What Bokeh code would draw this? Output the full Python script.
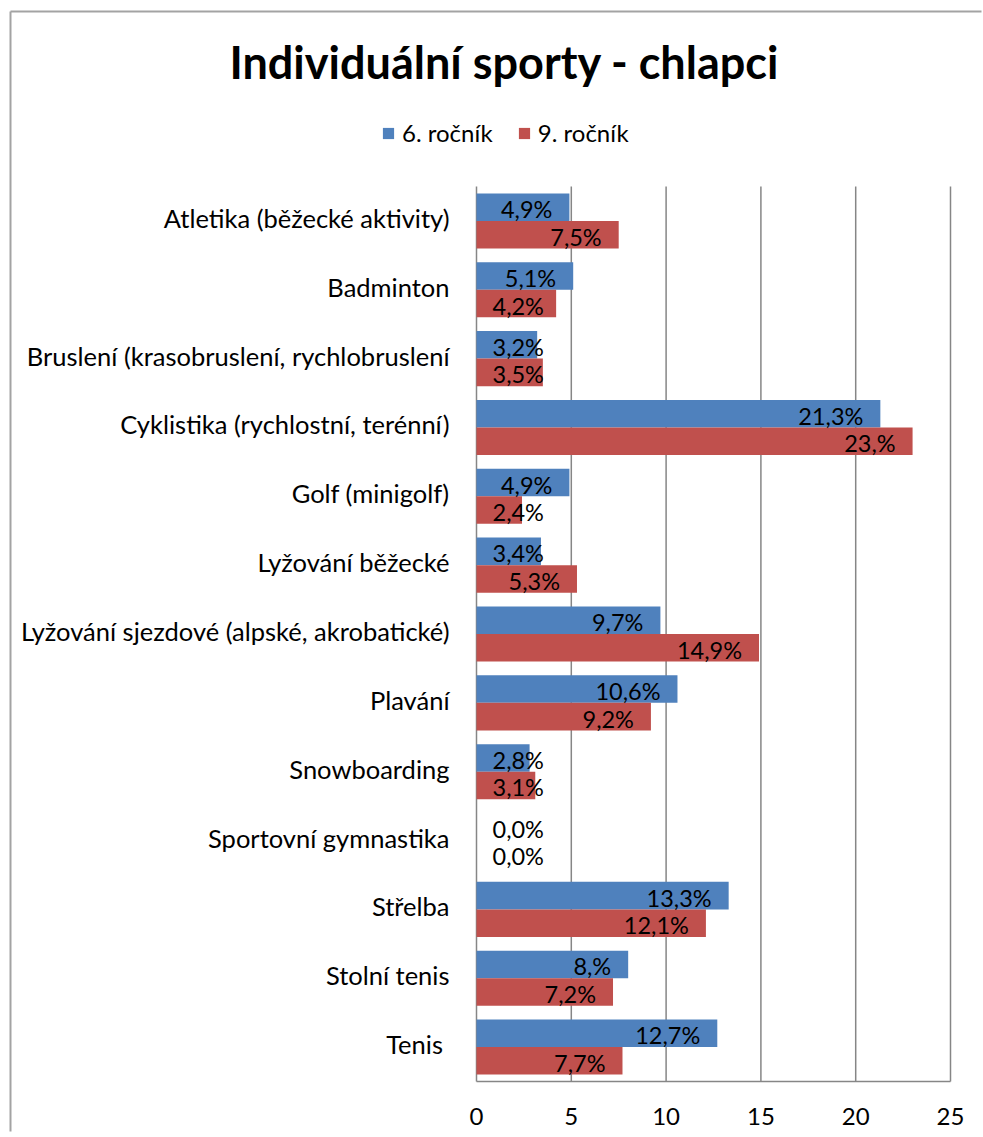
from bokeh.plotting import figure
from bokeh.models import ColumnDataSource, Range1d, Legend, LegendItem, Label
from bokeh.embed import file_html
from bokeh.resources import INLINE
from bokeh.core.properties import value
from bokeh.transform import dodge

categories = [
    "Atletika (běžecké aktivity)",
    "Badminton",
    "Bruslení (krasobruslení, rychlobruslení",
    "Cyklistika (rychlostní, terénní)",
    "Golf (minigolf)",
    "Lyžování běžecké",
    "Lyžování sjezdové (alpské, akrobatické)",
    "Plavání",
    "Snowboarding",
    "Sportovní gymnastika",
    "Střelba",
    "Stolní tenis",
    "Tenis ",
]
grade6 = [4.9, 5.1, 3.2, 21.3, 4.9, 3.4, 9.7, 10.6, 2.8, 0.0, 13.3, 8.0, 12.7]
grade9 = [7.5, 4.2, 3.5, 23.0, 2.4, 5.3, 14.9, 9.2, 3.1, 0.0, 12.1, 7.2, 7.7]
labels6 = ["4,9%", "5,1%", "3,2%", "21,3%", "4,9%", "3,4%", "9,7%", "10,6%", "2,8%", "0,0%", "13,3%", "8,%", "12,7%"]
labels9 = ["7,5%", "4,2%", "3,5%", "23,%", "2,4%", "5,3%", "14,9%", "9,2%", "3,1%", "0,0%", "12,1%", "7,2%", "7,7%"]
series_names = ["6. ročník", "9. ročník"]
x_ticks = [0, 5, 10, 15, 20, 25]
title_text = "Individuální sporty - chlapci"

BLUE = "#4F81BD"
RED = "#C0504D"
GRID = "#868686"
BORDER = "#a3a3a3"
FONT = "Lato"
INSIDE_MIN = 4.5  # labels of shorter bars start at the axis

# page layout (pixels)
W, H = 983, 1133
PLOT_L, PLOT_R, PLOT_T, PLOT_B = 476, 950, 186, 1081

n = len(categories)
ypos = [n - 1 - i for i in range(n)]
x_max = x_ticks[-1]
ppx = (PLOT_R - PLOT_L) / x_max
ppy = (PLOT_B - PLOT_T) / n
y_lo, y_hi = -0.5, n - 0.5


def px_x(px):
    return (px - PLOT_L) / ppx


def px_y(py):
    return y_lo + (PLOT_B - py) / ppy


p = figure(width=W, height=H,
           x_range=Range1d(px_x(0), px_x(W)), y_range=Range1d(px_y(H), px_y(0)),
           x_axis_type=None, y_axis_type=None, title_location=None,
           output_backend="svg", toolbar_location=None, min_border=0)
p.outline_line_color = None
p.background_fill_color = "white"
p.border_fill_color = "white"
p.xgrid.visible = False
p.ygrid.visible = False

# chart border (left and top edges of the chart area)
p.segment(x0=[px_x(10), px_x(10)], y0=[px_y(11), px_y(11)],
          x1=[px_x(10), px_x(W - 2)], y1=[px_y(H - 2), px_y(11)],
          line_color=BORDER, line_width=2)

# vertical gridlines and axis lines
p.segment(x0=x_ticks, y0=[y_lo] * len(x_ticks), x1=x_ticks, y1=[y_hi] * len(x_ticks),
          line_color=GRID, line_width=1.5)
p.segment(x0=[0], y0=[y_lo], x1=[x_max], y1=[y_lo], line_color=GRID, line_width=1.5)

src = ColumnDataSource(dict(y=ypos, g6=grade6, g9=grade9))
r6 = p.hbar(y=dodge("y", 0.2), left=0, right="g6", height=0.4,
            source=src, fill_color=BLUE, line_color=None)
r9 = p.hbar(y=dodge("y", -0.2), left=0, right="g9", height=0.4,
            source=src, fill_color=RED, line_color=None)


def add_labels(vals, labs, off):
    ins = dict(x=[], y=[], t=[])
    out = dict(x=[], y=[], t=[])
    for v, t, y in zip(vals, labs, ypos):
        if v >= INSIDE_MIN:
            ins["x"].append(v); ins["y"].append(y + off); ins["t"].append(t)
        else:
            out["x"].append(0); out["y"].append(y + off); out["t"].append(t)
    common = dict(text_baseline="middle", text_font=value(FONT), text_font_size="23.5px",
                  text_color="black", y_offset=2)
    p.text(x="x", y="y", text="t", source=ColumnDataSource(ins), text_align="right",
           x_offset=-17, **common)
    p.text(x="x", y="y", text="t", source=ColumnDataSource(out), text_align="left",
           x_offset=16, **common)


add_labels(grade6, labels6, 0.2)
add_labels(grade9, labels9, -0.2)

# category labels (left axis)
p.text(x=[0] * n, y=ypos, text=categories, text_align="right", text_baseline="middle",
       x_offset=-27, y_offset=-3, text_font=value(FONT), text_font_size="25.5px",
       text_color="black")

# value axis tick labels
p.text(x=x_ticks, y=[y_lo] * len(x_ticks), text=[str(t) for t in x_ticks],
       text_align="center", text_baseline="middle", y_offset=35,
       text_font=value(FONT), text_font_size="24px", text_color="black")

legend = Legend(items=[LegendItem(label=series_names[0], renderers=[r6]),
                       LegendItem(label=series_names[1], renderers=[r9])],
                orientation="horizontal", location=(381, H - 147),
                glyph_width=14, glyph_height=14, label_standoff=7, spacing=24,
                padding=0, margin=0, border_line_color=None, background_fill_alpha=0,
                label_text_font=FONT, label_text_font_size="24px", label_text_color="black")
p.add_layout(legend, "center")

p.add_layout(Label(x=px_x(504), y=px_y(61), text=title_text, text_align="center",
                   text_baseline="alphabetic", text_font=FONT, text_font_size="45px",
                   text_font_style="bold", text_color="black"))

open("out.html", "w").write(file_html(p, INLINE))
